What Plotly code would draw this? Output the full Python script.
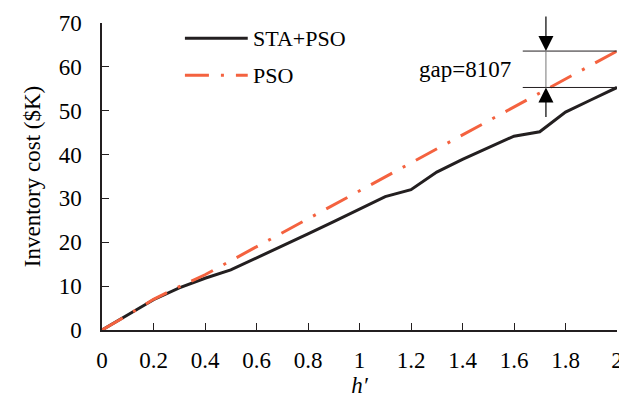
import plotly.graph_objects as go

h = [0, 0.1, 0.2, 0.3, 0.4, 0.5, 0.6, 0.7, 0.8, 0.9, 1.0,
     1.1, 1.2, 1.3, 1.4, 1.5, 1.6, 1.7, 1.8, 1.9, 2.0]
sta_pso = [0, 3.5, 6.9, 9.6, 11.8, 13.7, 16.4, 19.2, 21.9, 24.7, 27.5,
           30.4, 32.0, 36.0, 38.9, 41.6, 44.2, 45.2, 49.7, 52.5, 55.3]
pso = [0, 3.4, 7.0, 9.9, 12.6, 15.8, 19.0, 22.2, 25.4, 28.6, 31.8,
       35.0, 38.2, 41.3, 44.5, 47.7, 50.9, 54.1, 57.3, 60.5, 63.6]
x_ticks = [0, 0.2, 0.4, 0.6, 0.8, 1, 1.2, 1.4, 1.6, 1.8, 2]
x_tick_labels = ["0", "0.2", "0.4", "0.6", "0.8", "1", "1.2", "1.4", "1.6", "1.8", "2"]
y_ticks = [0, 10, 20, 30, 40, 50, 60, 70]
gap_label = "gap=8107"

BLACK = "#231f20"
ORANGE = "#f4623f"
PSO_DASH = "24px,12px,3px,12px"
FONT = "Liberation Serif"
FS = 23

fig = go.Figure()
fig.add_trace(go.Scatter(x=h, y=sta_pso, mode="lines", name="STA+PSO",
                         line=dict(color=BLACK, width=3), showlegend=False))
fig.add_trace(go.Scatter(x=h, y=pso, mode="lines", name="PSO",
                         line=dict(color=ORANGE, width=3, dash=PSO_DASH), showlegend=False))

# manual legend
leg = [("STA+PSO", BLACK, "solid", 0.95), ("PSO", ORANGE, PSO_DASH, 0.83)]
for name, col, dash, yy in leg:
    fig.add_shape(type="line", xref="paper", yref="paper", x0=0.161, x1=0.283,
                  y0=yy, y1=yy, line=dict(color=col, width=3, dash=dash))
    fig.add_annotation(xref="paper", yref="paper", x=0.29, y=yy, text=name,
                       showarrow=False, xanchor="left", yanchor="middle",
                       font=dict(family=FONT, size=22, color="black"))

# gap marker
gx = 1.724
top, bot = pso[-1], sta_pso[-1]
for yy in (top, bot):
    fig.add_shape(type="line", xref="x", yref="y", x0=1.634, x1=2.0, y0=yy, y1=yy,
                  line=dict(color=BLACK, width=1))
fig.add_shape(type="line", xref="x", yref="y", x0=gx, x1=gx, y0=bot, y1=top,
              line=dict(color="#777777", width=1))
fig.add_annotation(x=gx, y=top, ax=gx, ay=71.8, xref="x", yref="y", axref="x", ayref="y",
                   showarrow=True, arrowhead=2, arrowsize=2.5, arrowwidth=1.2,
                   arrowcolor="black", text="")
fig.add_annotation(x=gx, y=bot, ax=gx, ay=48.2, xref="x", yref="y", axref="x", ayref="y",
                   showarrow=True, arrowhead=2, arrowsize=2.5, arrowwidth=1.2,
                   arrowcolor="black", text="")
fig.add_annotation(x=1.598, y=59.3, xref="x", yref="y", text=gap_label, showarrow=False,
                   xanchor="right", yanchor="middle",
                   font=dict(family=FONT, size=FS, color="black"))

axis_common = dict(showgrid=False, zeroline=False, showline=True, linecolor=BLACK,
                   linewidth=1.5, ticks="inside", ticklen=7, tickwidth=1.3,
                   tickcolor=BLACK, automargin=False,
                   tickfont=dict(family=FONT, size=FS, color="black"))
fig.update_xaxes(range=[0, 2], tickvals=x_ticks, ticktext=x_tick_labels,
                 ticklabeloverflow="allow",
                 title=dict(text="<i>h′</i>", font=dict(family=FONT, size=FS, color="black"),
                            standoff=3), ticklabelstandoff=9, **axis_common)
fig.update_yaxes(range=[0, 70], tickvals=y_ticks,
                 title=dict(text="Inventory cost ($K)",
                            font=dict(family=FONT, size=FS, color="black"), standoff=12),
                 ticklabelstandoff=14, **axis_common)

fig.update_layout(width=619, height=403,
                  margin=dict(l=102, r=2, t=23, b=73, autoexpand=False),
                  paper_bgcolor="white", plot_bgcolor="white",
                  font=dict(family=FONT, color="black"))
fig.write_html("out.html")
